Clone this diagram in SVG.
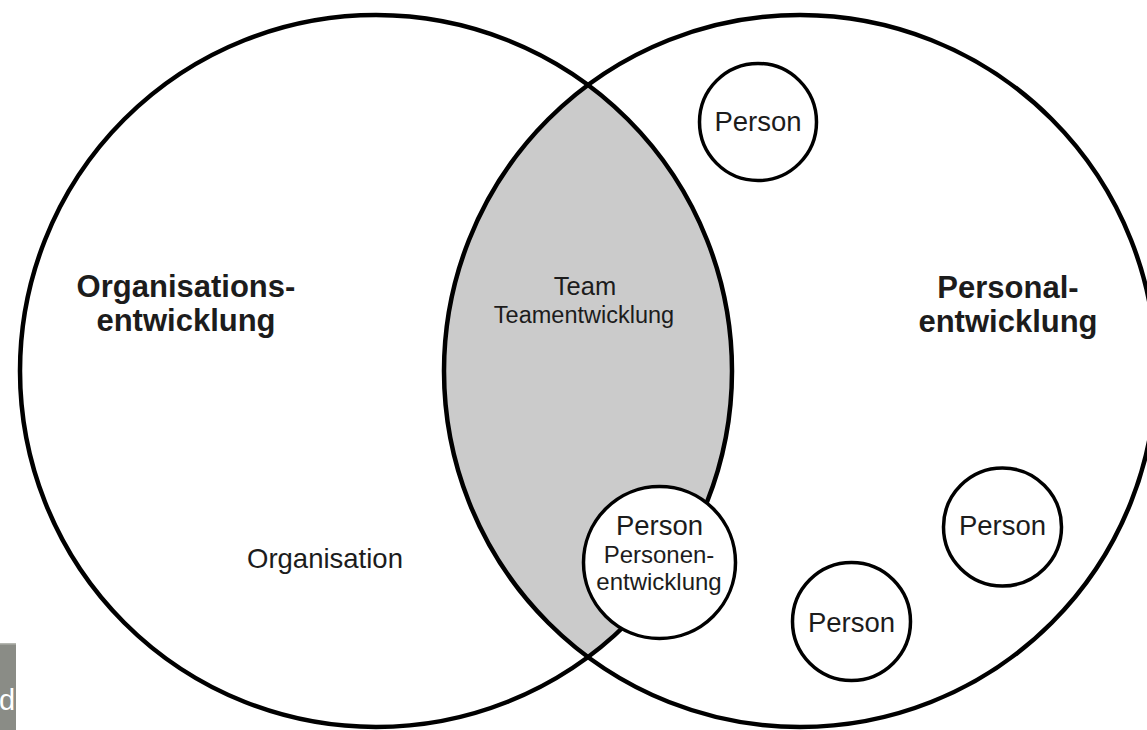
<svg xmlns="http://www.w3.org/2000/svg" width="1147" height="730" viewBox="0 0 1147 730">
<style>
.big{fill:none;stroke:#000;stroke-width:4.5}
.small{fill:#fff;stroke:#000;stroke-width:3.5}
.t{font-family:"Liberation Sans",Arial,sans-serif;fill:#1c1c1c;text-anchor:middle}
.b{font-weight:bold}
</style>
<defs><clipPath id="boxclip"><rect x="0" y="643" width="16" height="87"/></clipPath></defs>
<rect width="1147" height="730" fill="#fff"/>
<g id="overlap">
<path d="M588 85 A356 356 0 0 1 588 657 A356 356 0 0 1 588 85 Z" fill="#cbcbcb"/>
</g>
<g id="organisationsentwicklung">
<circle class="big" cx="376" cy="371" r="356"/>
<text class="t b" x="186" y="297" font-size="31">Organisations-</text>
<text class="t b" x="186" y="331" font-size="31">entwicklung</text>
<text class="t" x="325" y="568" font-size="27.5">Organisation</text>
</g>
<g id="personalentwicklung">
<circle class="big" cx="800" cy="371" r="356"/>
<text class="t b" x="1008" y="298" font-size="31">Personal-</text>
<text class="t b" x="1008" y="332" font-size="31">entwicklung</text>
</g>
<g id="team">
<text class="t" x="585" y="295" font-size="25.5">Team</text>
<text class="t" x="584" y="323" font-size="23.5">Teamentwicklung</text>
</g>
<g id="person-top">
<circle class="small" cx="758" cy="122" r="58.5"/>
<text class="t" x="758" y="131" font-size="27.5">Person</text>
</g>
<g id="person-inner">
<circle class="small" cx="659.5" cy="562.5" r="76"/>
<text class="t" x="659.5" y="535" font-size="27.5">Person</text>
<text class="t" x="659" y="563" font-size="24">Personen-</text>
<text class="t" x="659" y="590" font-size="24">entwicklung</text>
</g>
<g id="person-right">
<circle class="small" cx="1002.5" cy="527" r="59"/>
<text class="t" x="1002.5" y="535" font-size="27.5">Person</text>
</g>
<g id="person-bottom">
<circle class="small" cx="851.5" cy="621.5" r="59"/>
<text class="t" x="851.5" y="632" font-size="27.5">Person</text>
</g>
<g id="connectors"></g>
<g id="corner-tab">
<rect x="0" y="643" width="16" height="87" fill="#8a8c86"/>
<rect x="0" y="643" width="16" height="1.5" fill="#b5b7b1"/>
<text x="-1" y="710" font-family="Liberation Sans,Arial,sans-serif" font-size="29" fill="#fff" clip-path="url(#boxclip)">d</text>
</g>
</svg>
